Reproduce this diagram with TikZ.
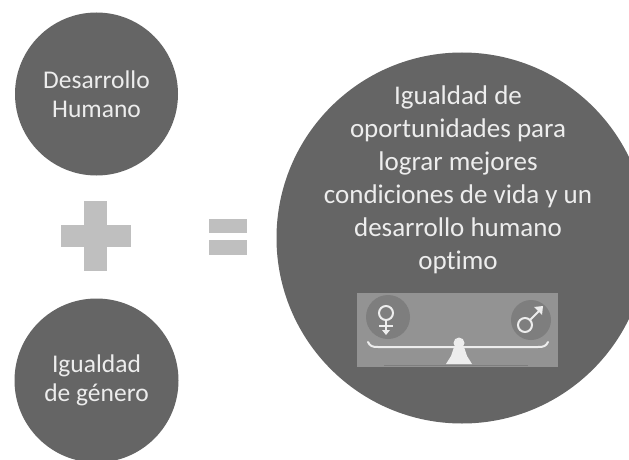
\documentclass[tikz,border=0pt]{standalone}
\usepackage{fontspec}
\setmainfont[Ligatures=NoCommon]{Carlito}
\definecolor{dk}{HTML}{656565}
\definecolor{lt}{HTML}{BFBFBF}
\definecolor{pn}{HTML}{939393}
\definecolor{sh}{HTML}{7E7E7E}
\definecolor{wh}{HTML}{EDEDED}
\tikzset{
  disc/.style={circle,fill=dk,draw=none,inner sep=0pt,text=wh,align=center,font=\fontsize{25.5}{29}\selectfont},
  symb/.style={fill=lt,draw=none},
  iconline/.style={draw=wh,line width=2pt}
}
\begin{document}
\begin{tikzpicture}[x=1pt,y=-1pt]
\useasboundingbox (0,0) rectangle (629,460);
\fill[white] (0,0) rectangle (629,460);
\begin{scope}
\clip (0,0) rectangle (629,460);
\node[disc,minimum size=163pt] (a) at (96.5,94) {Desarrollo\\Humano};
\node[disc,minimum size=164pt] (b) at (96.5,380.5) {Igualdad\\de género};
\node[circle,fill=dk,inner sep=0pt,minimum size=371pt] (c) at (462,238) {};
\end{scope}
\node[text=wh,align=center,font=\fontsize{27}{33}\selectfont] (t) at (458,180) {Igualdad de\\oportunidades para\\lograr mejores\\condiciones de vida y un\\desarrollo humano\\optimo};
\fill[symb] (84,201) rectangle (107,271);
\fill[symb] (61,225) rectangle (131,247);
\fill[symb] (209,219) rectangle (247,233);
\fill[symb] (209,240) rectangle (247,255);
\fill[pn] (357,293) rectangle (558,367);
\fill[sh] (388,317) circle (22);
\fill[sh] (531,320) circle (20);
% female symbol
\draw[iconline] (386,313) circle (7);
\draw[iconline] (386,320) -- (386,331);
\draw[iconline] (379,326) -- (393,326);
\fill[wh] (382,330) -- (390,330) -- (386,335) -- cycle;
% male symbol
\draw[iconline] (525,325) circle (7);
\draw[iconline] (530,320) -- (540,310);
\fill[wh] (534,307) -- (543,306) -- (542,315) -- cycle;
% beam and fulcrum
\draw[iconline,line cap=round] (368,342) .. controls (370,346) and (372,347) .. (378,347) -- (538,347) .. controls (544,347) and (546,346) .. (548,342);
\draw[draw=sh,line width=0.8pt] (384,365) -- (528,365);
\fill[wh] (459,343) circle (5.5);
\fill[wh] (454,347) -- (464,347) -- (467,356) -- (472,364) -- (446,364) -- (451,356) -- cycle;
\end{tikzpicture}
\end{document}
